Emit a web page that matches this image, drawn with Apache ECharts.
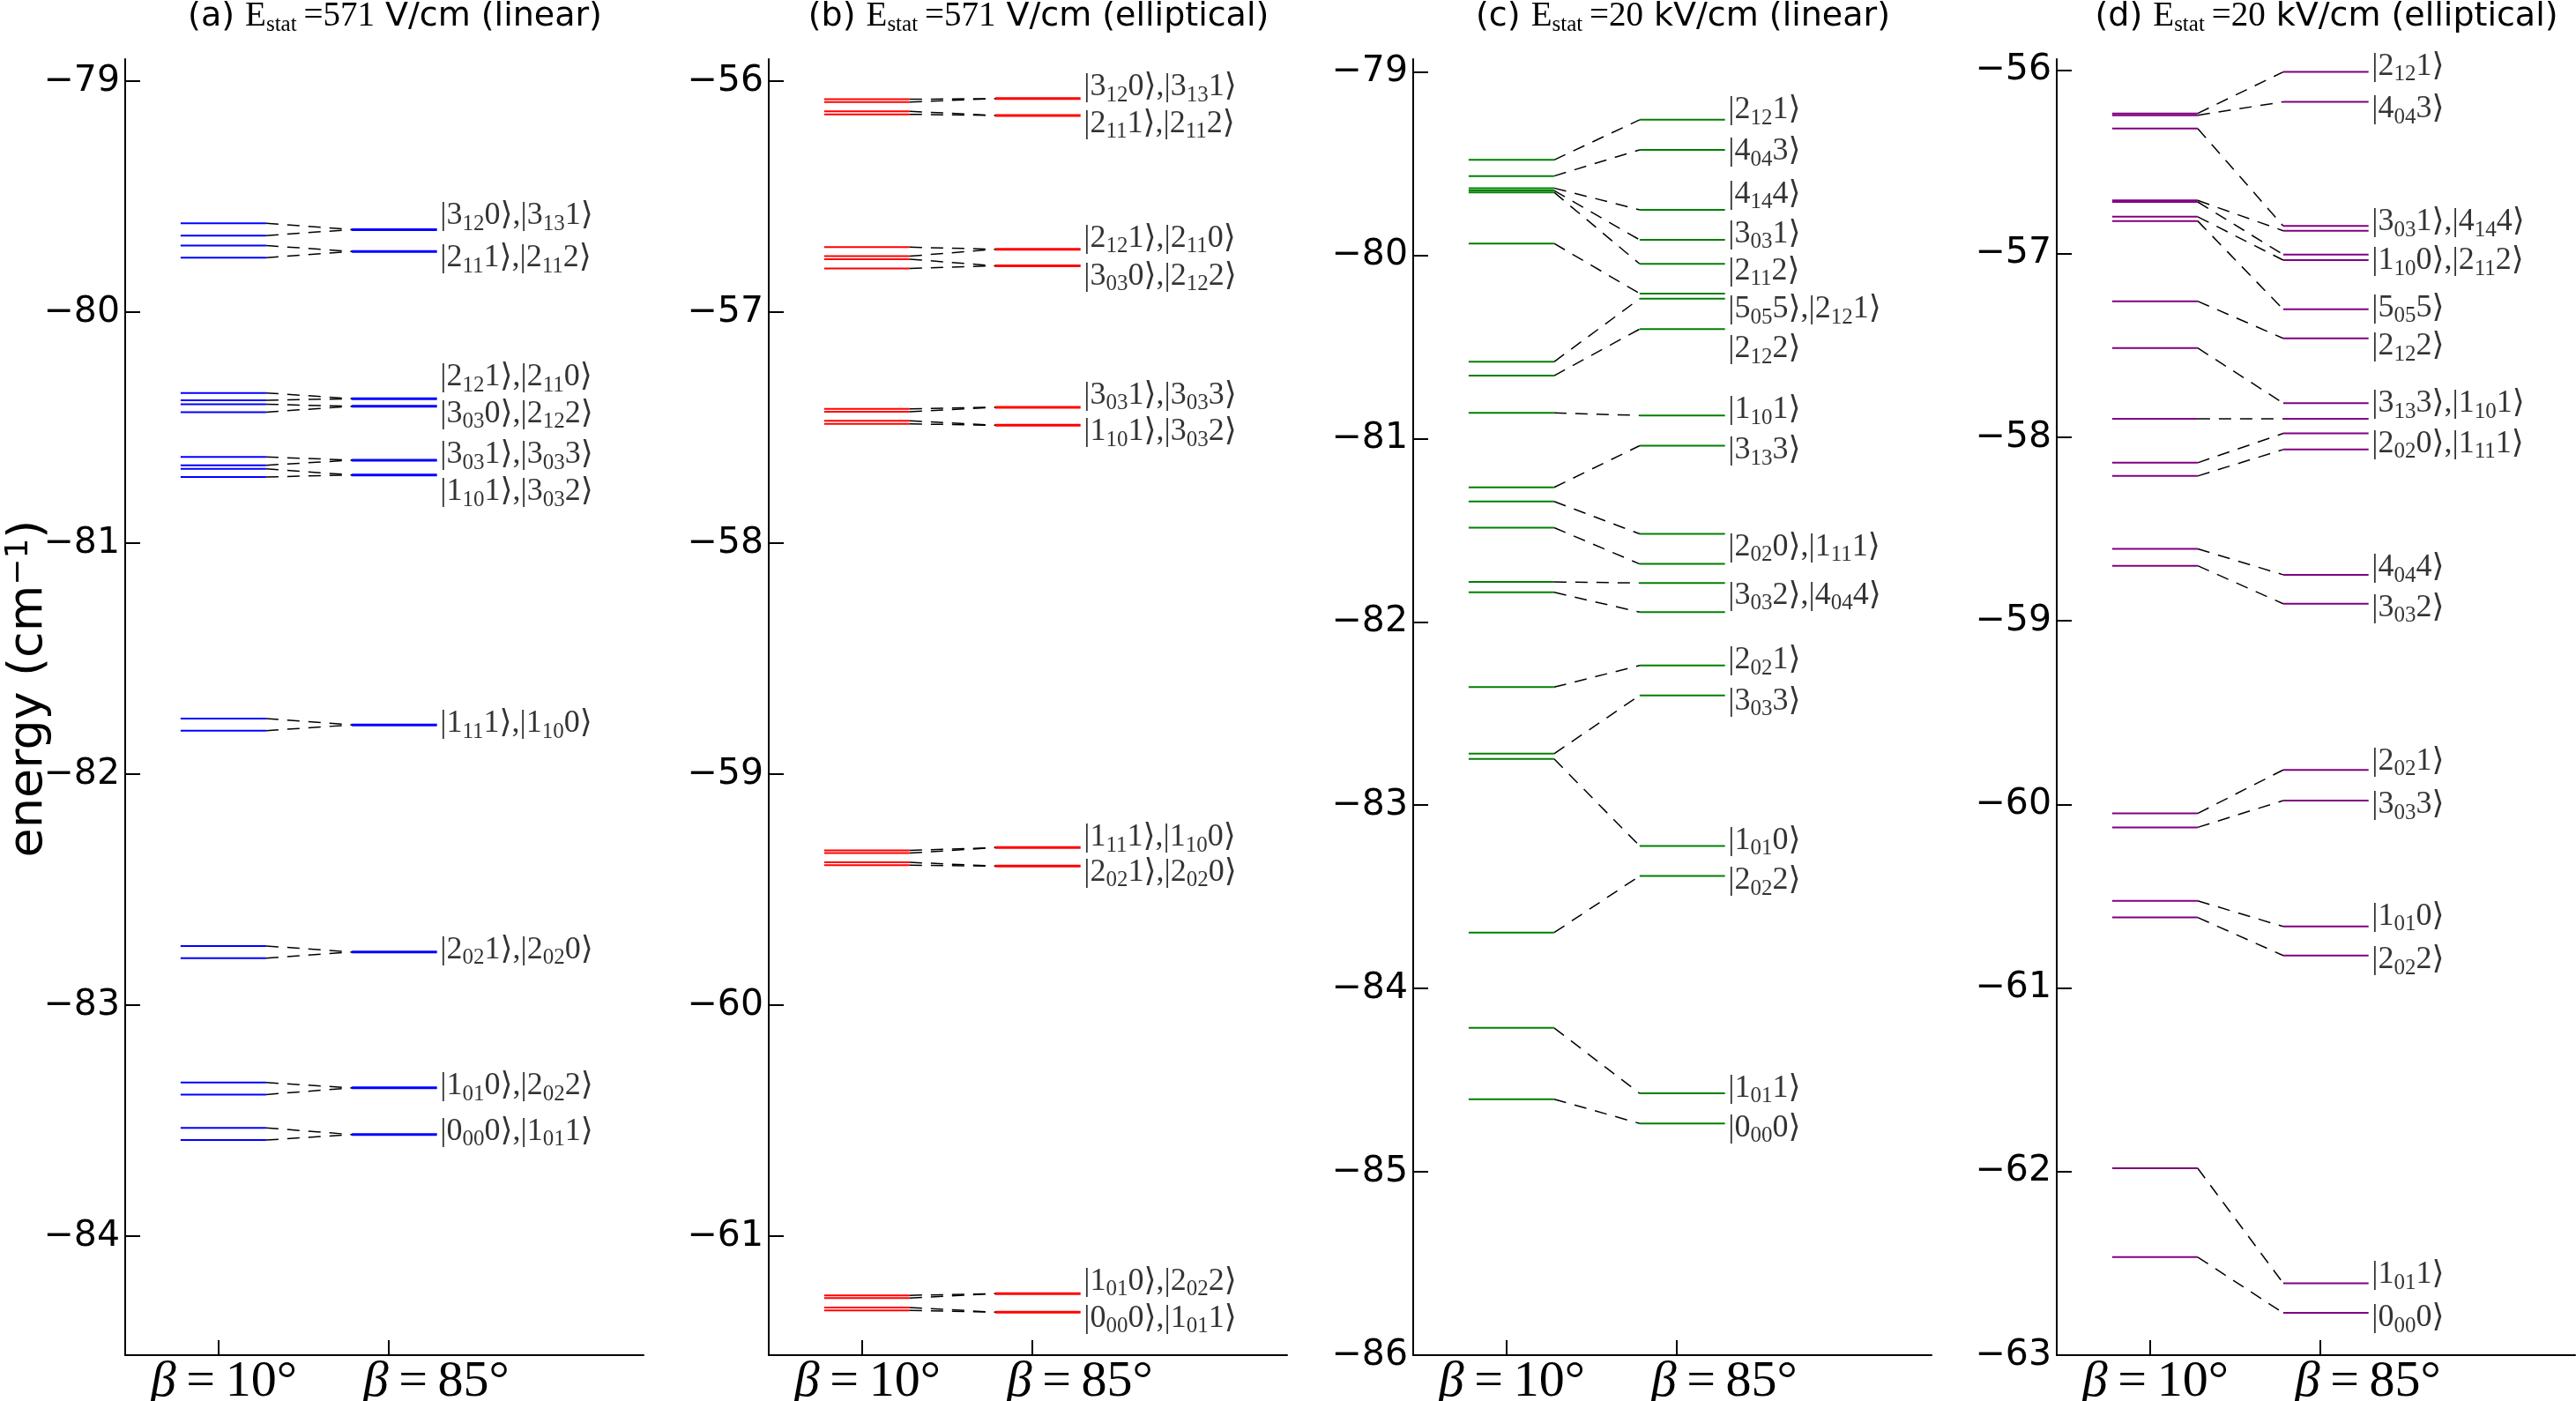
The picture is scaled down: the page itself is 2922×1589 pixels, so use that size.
<!DOCTYPE html>
<html>
<head>
<meta charset="utf-8">
<script src="https://cdn.jsdelivr.net/npm/echarts@6/dist/echarts.min.js"></script>
<style>
  html, body { margin: 0; padding: 0; background: #fff; }
  #chart { width: 2922px; height: 1589px; }
</style>
</head>
<body>
<div id="chart"></div>
<script>
// tick positions on the x axis: beta = 10 deg and beta = 85 deg
var xTicks = [1, 2];
var xTickNames = ['10°', '85°'];

// (a) 571 V/cm, linear
var aLeft = [-79.616, -79.669, -79.712, -79.765, -80.350, -80.382, -80.399, -80.433, -80.627, -80.663,
  -80.679, -80.714, -81.760, -81.812, -82.744, -82.797, -83.335, -83.387, -83.531, -83.584];
var aRight = [-79.643, -79.738, -80.375, -80.408, -80.641, -80.705, -81.787, -82.770, -83.358, -83.560];
var aLink = [0, 0, 1, 1, 2, 2, 3, 3, 4, 4, 5, 5, 6, 6, 7, 7, 8, 8, 9, 9];
var aLabelText = ['3120,3131', '2111,2112', '2121,2110', '3030,2122', '3031,3033', '1101,3032',
  '1111,1100', '2021,2020', '1010,2022', '0000,1011'];
var aLabelY = [-79.584, -79.766, -80.281, -80.440, -80.618, -80.777, -81.782, -82.760, -83.350, -83.547];
var aTicks = [-84, -83, -82, -81, -80, -79];

// (b) 571 V/cm, elliptical
var bLeft = [-56.079, -56.091, -56.131, -56.144, -56.719, -56.758, -56.771, -56.811, -57.419, -57.432,
  -57.471, -57.484, -59.330, -59.342, -59.382, -59.394, -61.256, -61.268, -61.309, -61.321];
var bRight = [-56.076, -56.149, -56.728, -56.800, -57.412, -57.490, -59.318, -59.398, -61.249, -61.329];
var bLink = [0, 0, 1, 1, 2, 2, 3, 3, 4, 4, 5, 5, 6, 6, 7, 7, 8, 8, 9, 9];
var bLabelText = ['3120,3131', '2111,2112', '2121,2110', '3030,2122', '3031,3033', '1101,3032',
  '1111,1100', '2021,2020', '1010,2022', '0000,1011'];
var bLabelY = [-56.025, -56.184, -56.680, -56.845, -57.360, -57.518, -59.273, -59.424, -61.196, -61.355];
var bTicks = [-61, -60, -59, -58, -57, -56];

// (c) 20 kV/cm, linear
var cLeft = [-79.480, -79.568, -79.634, -79.647, -79.657, -79.936, -80.581, -80.657, -80.860, -81.266,
  -81.343, -81.486, -81.782, -81.839, -82.356, -82.719, -82.748, -83.695, -84.215, -84.604];
var cRight = [-79.261, -79.425, -79.752, -79.916, -80.047, -80.209, -80.237, -80.403, -80.874, -81.039,
  -81.520, -81.684, -81.788, -81.947, -82.238, -82.401, -83.222, -83.386, -84.572, -84.736];
var cLink = [0, 1, 2, 3, 4, 5, 6, 7, 8, 9, 10, 11, 12, 13, 14, 15, 16, 17, 18, 19];
var cLabelText = ['2121', '4043', '4144', '3031', '2112', '5055,2121', '2122', '1101', '3133',
  '2020,1111', '3032,4044', '2021', '3033', '1010', '2022', '1011', '0000'];
var cLabelY = [-79.208, -79.433, -79.667, -79.884, -80.085, -80.295, -80.512, -80.842, -81.065,
  -81.590, -81.855, -82.209, -82.433, -83.193, -83.410, -84.543, -84.760];
var cTicks = [-86, -85, -84, -83, -82, -81, -80, -79];

// (d) 20 kV/cm, elliptical
var dLeft = [-56.236, -56.246, -56.318, -56.710, -56.718, -56.799, -56.822, -57.259, -57.514, -57.899,
  -58.139, -58.211, -58.608, -58.700, -60.049, -60.125, -60.525, -60.616, -61.982, -62.466];
var dRight = [-56.010, -56.173, -56.849, -56.875, -57.005, -57.035, -57.303, -57.461, -57.814, -57.899,
  -57.979, -58.067, -58.749, -58.907, -59.812, -59.979, -60.665, -60.823, -62.608, -62.770];
var dLink = [0, 1, 2, 3, 4, 5, 6, 7, 8, 9, 10, 11, 12, 13, 14, 15, 16, 17, 18, 19];
var dLabelText = ['2121', '4043', '3031,4144', '1100,2112', '5055', '2122', '3133,1101', '2020,1111',
  '4044', '3032', '2021', '3033', '1010', '2022', '1011', '0000'];
var dLabelY = [-55.979, -56.212, -56.826, -57.039, -57.296, -57.505, -57.818, -58.035, -58.709,
  -58.928, -59.764, -60.002, -60.610, -60.848, -62.563, -62.796];
var dTicks = [-63, -62, -61, -60, -59, -58, -57, -56];

var panels = [
  { tag: 'a', field: '571', unit: 'V/cm', pol: 'linear', color: '#0000ff', yMin: -84.515, yMax: -78.905,
    ticks: aTicks, left: aLeft, right: aRight, link: aLink, labelText: aLabelText, labelY: aLabelY, lw: [2, 3] },
  { tag: 'b', field: '571', unit: 'V/cm', pol: 'elliptical', color: '#ff0000', yMin: -61.515, yMax: -55.905,
    ticks: bTicks, left: bLeft, right: bRight, link: bLink, labelText: bLabelText, labelY: bLabelY, lw: [2, 3] },
  { tag: 'c', field: '20', unit: 'kV/cm', pol: 'linear', color: '#008000', yMin: -86.0, yMax: -78.93,
    ticks: cTicks, left: cLeft, right: cRight, link: cLink, labelText: cLabelText, labelY: cLabelY, lw: [2, 2] },
  { tag: 'd', field: '20', unit: 'kV/cm', pol: 'elliptical', color: '#800080', yMin: -63.0, yMax: -55.94,
    ticks: dTicks, left: dLeft, right: dRight, link: dLink, labelText: dLabelText, labelY: dLabelY, lw: [2, 2] }
];

// level segments and connector ends, in x-axis units
var segL = [0.777, 1.28], segR = [1.783, 2.285];
var gridLeft = [142, 872, 1603, 2333], gridW = 588, gridTop = 67, gridH = 1470;

function ket(code) {
  return '{m||' + code[0] + '}{s|' + code.substr(1, 2) + '}{m|' + code[3] + '\u27e9}';
}
function ketLabel(str) {
  return str.split(',').map(ket).join('{m|,}');
}

function segRender(color, width, dash) {
  return function(params, api) {
    var p1 = api.coord([api.value(0), api.value(1)]);
    var p2 = api.coord([api.value(2), api.value(3)]);
    return {
      type: 'line',
      shape: { x1: p1[0], y1: p1[1], x2: p2[0], y2: p2[1] },
      style: { stroke: color, lineWidth: width, lineDash: dash || null }
    };
  };
}

var serif = "'Liberation Serif', 'DejaVu Serif', serif";
var sans = "'DejaVu Sans', sans-serif";
var ketRich = {
  m: { fontFamily: serif, fontSize: 36, lineHeight: 42, color: '#000' },
  s: { fontFamily: serif, fontSize: 25, lineHeight: 25, padding: [19, 0, 0, 0], color: '#000' }
};
var betaRich = {
  gl: { fontFamily: serif, fontStyle: 'italic', fontSize: 58, color: '#000', padding: [0, 0, 0, 12] },
  gr: { fontFamily: serif, fontStyle: 'italic', fontSize: 58, color: '#000', padding: [0, 0, 0, 108] },
  n: { fontFamily: serif, fontSize: 58, color: '#000' }
};

var option = { animation: false, backgroundColor: '#fff', grid: [], xAxis: [], yAxis: [], series: [], graphic: [] };

panels.forEach(function(p, i) {
  option.grid.push({ left: gridLeft[i], top: gridTop, width: gridW, height: gridH, outerBoundsMode: 'none' });
  option.xAxis.push({
    type: 'value', gridIndex: i, min: 0.451, max: 3.5,
    axisLine: { show: true, lineStyle: { color: '#000', width: 2 } },
    axisTick: { show: true, inside: true, length: 17, customValues: xTicks, lineStyle: { color: '#000', width: 2 } },
    axisLabel: {
      show: true, customValues: xTicks, margin: 2,
      formatter: function(v) {
        var name = '\u2009=\u2009' + xTickNames[xTicks.indexOf(v)];
        return (v === xTicks[0] ? '{gl|\u03b2}' : '{gr|\u03b2}') + '{n|' + name + '}';
      },
      rich: betaRich
    },
    splitLine: { show: false }
  });
  option.yAxis.push({
    type: 'value', gridIndex: i, min: p.yMin, max: p.yMax,
    axisLine: { show: true, lineStyle: { color: '#000', width: 2 } },
    axisTick: { show: true, inside: true, length: 17, customValues: p.ticks, lineStyle: { color: '#000', width: 2 } },
    axisLabel: {
      show: true, customValues: p.ticks, margin: 6, color: '#000', fontFamily: sans, fontSize: 41,
      formatter: function(v) { return '\u2212' + Math.abs(v); }
    },
    splitLine: { show: false }
  });

  var leftSegs = p.left.map(function(e) { return [segL[0], e, segL[1], e]; });
  var rightSegs = p.right.map(function(e) { return [segR[0], e, segR[1], e]; });
  var links = p.left.map(function(e, k) { return [segL[1], e, segR[0], p.right[p.link[k]]]; });

  option.series.push({
    type: 'custom', xAxisIndex: i, yAxisIndex: i, data: links, silent: true, z: 1,
    renderItem: segRender('#000', 1.5, [14, 10])
  });
  option.series.push({
    type: 'custom', xAxisIndex: i, yAxisIndex: i, data: leftSegs, silent: true, z: 2,
    renderItem: segRender(p.color, p.lw[0])
  });
  option.series.push({
    type: 'custom', xAxisIndex: i, yAxisIndex: i, data: rightSegs, silent: true, z: 2,
    renderItem: segRender(p.color, p.lw[1])
  });
  option.series.push({
    type: 'scatter', xAxisIndex: i, yAxisIndex: i, silent: true, symbolSize: 1,
    itemStyle: { color: 'rgba(0,0,0,0)' },
    data: p.labelY.map(function(y, k) { return [segR[1], y, p.labelText[k]]; }),
    label: {
      show: true, position: 'right', distance: 3,
      formatter: function(prm) { return ketLabel(prm.data[2]); },
      rich: ketRich
    }
  });

  option.graphic.push({
    type: 'text', x: gridLeft[i] + gridW / 2 + 12, y: 19,
    style: {
      text: '{p|(' + p.tag + ') }{e|E}{s|stat}{e|\u2009=' + p.field + '}{p| ' + p.unit + ' (' + p.pol + ')}',
      align: 'center', verticalAlign: 'middle',
      rich: {
        p: { fontFamily: sans, fontSize: 38, color: '#000' },
        e: { fontFamily: serif, fontSize: 39, color: '#000' },
        s: { fontFamily: serif, fontSize: 25, padding: [18, 0, 0, 0], color: '#000' }
      }
    }
  });
});

option.graphic.push({
  type: 'text', x: 33, y: 781, rotation: Math.PI / 2,
  style: {
    text: '{t|energy (cm}{u|\u22121}{t|)}',
    align: 'center', verticalAlign: 'middle',
    rich: {
      t: { fontFamily: sans, fontSize: 54, color: '#000' },
      u: { fontFamily: sans, fontSize: 36, padding: [0, 0, 22, 0], color: '#000' }
    }
  }
});

var chart = echarts.init(document.getElementById('chart'));
chart.setOption(option);
</script>
</body>
</html>
